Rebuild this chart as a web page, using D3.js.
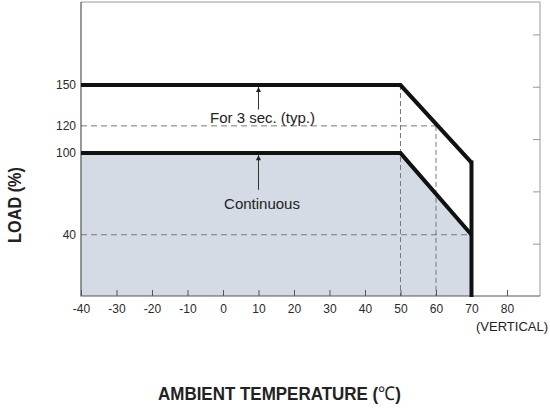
<!DOCTYPE html>
<html>
<head>
  <meta charset="UTF-8">
  <style>
      body { margin: 0; background: #fff; }
      text { font-family: Arial, "Liberation Sans", sans-serif; fill: #222; }
      .tick text { font-size: 12px; fill: #2a2a2a; }
  </style>
</head>
<body>
<svg></svg>
<script src="https://d3js.org/d3.v7.min.js"></script>

<script>
let width = 550, height = 408;

// derating curves (temperature in C, load in %)
var tempPeak = [-40, 50, 70];
var loadPeak = [150, 150, 93];
var tempCont = [-40, 50, 70];
var loadCont = [100, 100, 40];

// tick labels
var xTicks = [-40, -30, -20, -10, 0, 10, 20, 30, 40, 50, 60, 70, 80];
var yTicks = [40, 100, 120, 150];
var rightTicks = [1, 2, 3, 4, 5];

// guide lines
var hGuides = [{load: 120, to: 60}, {load: 40, to: 70}];
var vGuides = [{temp: 50, from: 150}, {temp: 60, from: 120}];

let svg = d3.select("svg")
    .attr("width", width)
    .attr("height", height);

let plotL = 81, plotR = 540, plotT = 2, plotB = 296;

var x = d3.scaleLinear().domain([-40, 89.3]).range([plotL, plotR]);
var y = d3.scaleLinear().domain([-5, 211]).range([plotB, plotT]);
var yR = d3.scaleLinear().domain([0, 5.62]).range([plotB, plotT]);

var peak = tempPeak.map((t, i) => [t, loadPeak[i]]);
var cont = tempCont.map((t, i) => [t, loadCont[i]]);

// arrow marker
svg.append("defs").append("marker")
    .attr("id", "arrow")
    .attr("viewBox", "0 0 10 10")
    .attr("refX", 10).attr("refY", 5)
    .attr("markerWidth", 8).attr("markerHeight", 5)
    .attr("markerUnits", "userSpaceOnUse")
    .attr("orient", "auto")
    .append("path")
    .attr("d", "M0,0L10,5L0,10Z")
    .attr("fill", "#222");

// shaded continuous region
svg.append("path")
    .datum(cont)
    .attr("fill", "#d4dbe4")
    .attr("d", d3.area().x(d => x(d[0])).y0(y(-5)).y1(d => y(d[1])));

// dashed guides
svg.selectAll(".hguide")
    .data(hGuides)
    .enter()
    .append("line")
    .attr("x1", x(-40)).attr("x2", d => x(d.to))
    .attr("y1", d => y(d.load)).attr("y2", d => y(d.load))
    .attr("stroke", "#777").attr("stroke-width", 1)
    .attr("stroke-dasharray", "6,4");

svg.selectAll(".vguide")
    .data(vGuides)
    .enter()
    .append("line")
    .attr("x1", d => x(d.temp)).attr("x2", d => x(d.temp))
    .attr("y1", d => y(d.from)).attr("y2", y(-5))
    .attr("stroke", "#777").attr("stroke-width", 1)
    .attr("stroke-dasharray", "5,3");

// frame
svg.append("path")
    .attr("d", "M" + plotL + "," + plotT + "H" + plotR + "V" + plotB)
    .attr("fill", "none").attr("stroke", "#999").attr("stroke-width", 1);
svg.append("path")
    .attr("d", "M" + plotL + "," + plotT + "V" + plotB + "H" + plotR)
    .attr("fill", "none").attr("stroke", "#555").attr("stroke-width", 1.2);

// axes (plain hyphen for negatives, like the original)
let xAxis = svg.append("g")
    .attr("transform", "translate(0," + plotB + ")")
    .call(d3.axisBottom(x).tickValues(xTicks).tickSize(-6).tickPadding(8.5).tickFormat(d => String(d)));
xAxis.select(".domain").remove();
xAxis.selectAll(".tick line").attr("stroke", "#555");

let yAxis = svg.append("g")
    .attr("transform", "translate(" + plotL + ",0)")
    .call(d3.axisLeft(y).tickValues(yTicks).tickSize(0).tickPadding(5));
yAxis.select(".domain").remove();

let rAxis = svg.append("g")
    .attr("transform", "translate(" + plotR + ",0)")
    .call(d3.axisLeft(yR).tickValues(rightTicks).tickSize(7).tickFormat(""));
rAxis.select(".domain").remove();
rAxis.selectAll(".tick line").attr("stroke", "#999");

// curves
let line = d3.line().x(d => x(d[0])).y(d => y(d[1]));

svg.append("path")
    .datum(peak)
    .attr("d", line)
    .attr("fill", "none").attr("stroke", "#111").attr("stroke-width", 4)
    .attr("stroke-linejoin", "miter");

svg.append("path")
    .datum(cont)
    .attr("d", line)
    .attr("fill", "none").attr("stroke", "#111").attr("stroke-width", 4)
    .attr("stroke-linejoin", "miter");

svg.append("line")
    .attr("x1", x(70)).attr("x2", x(70))
    .attr("y1", y(loadPeak[2]) - 2).attr("y2", y(-5) + 1)
    .attr("stroke", "#111").attr("stroke-width", 4);

// annotations
svg.append("line")
    .attr("x1", x(10)).attr("x2", x(10))
    .attr("y1", y(132)).attr("y2", y(148.5))
    .attr("stroke", "#333").attr("stroke-width", 1)
    .attr("marker-end", "url(#arrow)");
svg.append("line")
    .attr("x1", x(10)).attr("x2", x(10))
    .attr("y1", y(73)).attr("y2", y(98.5))
    .attr("stroke", "#333").attr("stroke-width", 1)
    .attr("marker-end", "url(#arrow)");

svg.append("text")
    .attr("x", 262.5).attr("y", 123)
    .attr("text-anchor", "middle")
    .style("font-size", "15px")
    .text("For 3 sec. (typ.)");

svg.append("text")
    .attr("x", 262).attr("y", 209)
    .attr("text-anchor", "middle")
    .style("font-size", "15px")
    .text("Continuous");

svg.append("text")
    .attr("x", 548).attr("y", 331)
    .attr("text-anchor", "end")
    .style("font-size", "13px")
    .text("(VERTICAL)");

// axis titles - narrow bold face, squeezed horizontally to the original width
let yt = svg.append("text")
    .attr("text-anchor", "middle")
    .style("font-size", "19px").style("font-weight", "bold")
    .text("LOAD (%)");
let ytw = yt.node().getComputedTextLength();
yt.attr("transform", "translate(21,205) rotate(-90) scale(" + (76 / ytw) + ",1)");

let xt = svg.append("text")
    .style("font-size", "19px").style("font-weight", "bold");
xt.append("tspan").text("AMBIENT TEMPERATURE (");
xt.append("tspan").style("font-weight", "normal").text("℃");
xt.append("tspan").text(")");
let xtw = xt.node().getComputedTextLength();
xt.attr("transform", "translate(158,400) scale(" + (243 / xtw) + ",1)");

</script>

</body>
</html>
